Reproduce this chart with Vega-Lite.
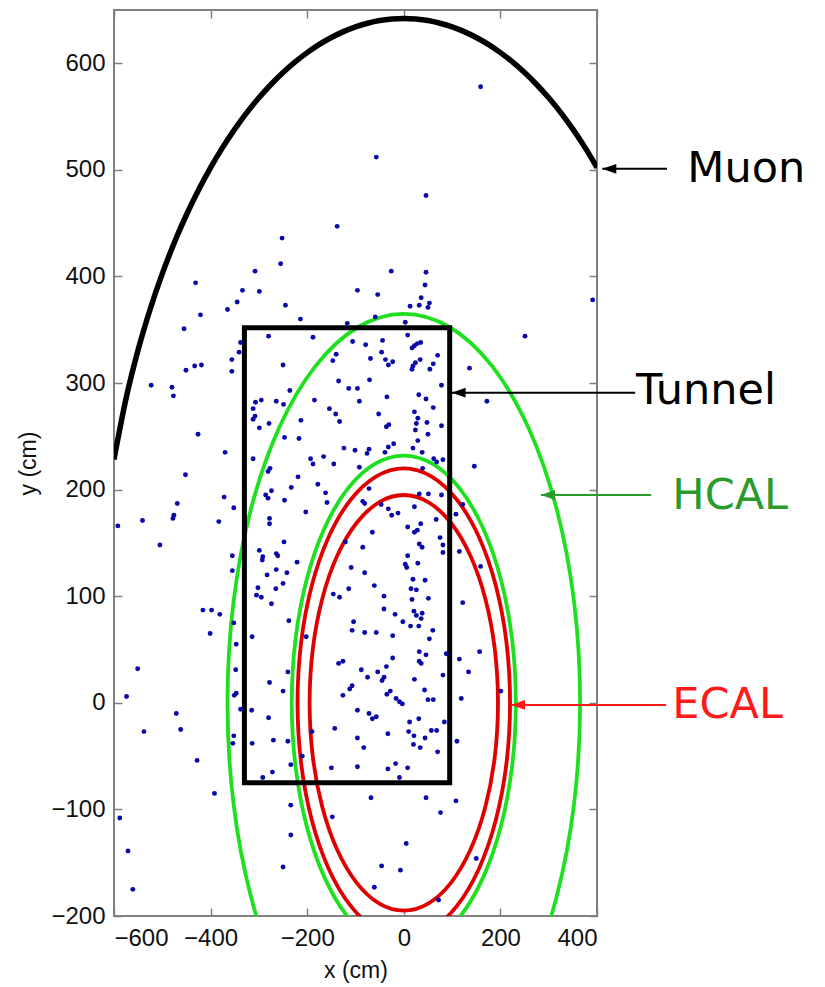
{
  "$schema": "https://vega.github.io/schema/vega-lite/v6.json",
  "width": 483,
  "height": 906,
  "autosize": "none",
  "padding": {"left": 114, "top": 10, "right": 228, "bottom": 71},
  "background": "white",
  "datasets": {
    "rings": [
      {"ring":"E1","item":"ECAL","i":0,"x":195,"y":0},{"ring":"E1","item":"ECAL","i":1,"x":188.4,"y":50.5},{"ring":"E1","item":"ECAL","i":2,"x":168.9,"y":97.5},{"ring":"E1","item":"ECAL","i":3,"x":137.9,"y":137.9},{"ring":"E1","item":"ECAL","i":4,"x":97.5,"y":168.9},{"ring":"E1","item":"ECAL","i":5,"x":50.5,"y":188.4},{"ring":"E1","item":"ECAL","i":6,"x":0,"y":195},{"ring":"E1","item":"ECAL","i":7,"x":-50.5,"y":188.4},{"ring":"E1","item":"ECAL","i":8,"x":-97.5,"y":168.9},{"ring":"E1","item":"ECAL","i":9,"x":-137.9,"y":137.9},{"ring":"E1","item":"ECAL","i":10,"x":-168.9,"y":97.5},{"ring":"E1","item":"ECAL","i":11,"x":-188.4,"y":50.5},{"ring":"E1","item":"ECAL","i":12,"x":-195,"y":0},{"ring":"E1","item":"ECAL","i":13,"x":-188.4,"y":-50.5},{"ring":"E1","item":"ECAL","i":14,"x":-168.9,"y":-97.5},{"ring":"E1","item":"ECAL","i":15,"x":-137.9,"y":-137.9},{"ring":"E1","item":"ECAL","i":16,"x":-97.5,"y":-168.9},{"ring":"E1","item":"ECAL","i":17,"x":-50.5,"y":-188.4},{"ring":"E1","item":"ECAL","i":18,"x":0,"y":-195},{"ring":"E1","item":"ECAL","i":19,"x":50.5,"y":-188.4},{"ring":"E1","item":"ECAL","i":20,"x":97.5,"y":-168.9},{"ring":"E1","item":"ECAL","i":21,"x":137.9,"y":-137.9},{"ring":"E1","item":"ECAL","i":22,"x":168.9,"y":-97.5},{"ring":"E1","item":"ECAL","i":23,"x":188.4,"y":-50.5},
      {"ring":"E2","item":"ECAL","i":0,"x":220,"y":0},{"ring":"E2","item":"ECAL","i":1,"x":212.5,"y":56.9},{"ring":"E2","item":"ECAL","i":2,"x":190.5,"y":110},{"ring":"E2","item":"ECAL","i":3,"x":155.6,"y":155.6},{"ring":"E2","item":"ECAL","i":4,"x":110,"y":190.5},{"ring":"E2","item":"ECAL","i":5,"x":56.9,"y":212.5},{"ring":"E2","item":"ECAL","i":6,"x":0,"y":220},{"ring":"E2","item":"ECAL","i":7,"x":-56.9,"y":212.5},{"ring":"E2","item":"ECAL","i":8,"x":-110,"y":190.5},{"ring":"E2","item":"ECAL","i":9,"x":-155.6,"y":155.6},{"ring":"E2","item":"ECAL","i":10,"x":-190.5,"y":110},{"ring":"E2","item":"ECAL","i":11,"x":-212.5,"y":56.9},{"ring":"E2","item":"ECAL","i":12,"x":-220,"y":0},{"ring":"E2","item":"ECAL","i":13,"x":-212.5,"y":-56.9},{"ring":"E2","item":"ECAL","i":14,"x":-190.5,"y":-110},{"ring":"E2","item":"ECAL","i":15,"x":-155.6,"y":-155.6},{"ring":"E2","item":"ECAL","i":16,"x":-110,"y":-190.5},{"ring":"E2","item":"ECAL","i":17,"x":-56.9,"y":-212.5},{"ring":"E2","item":"ECAL","i":18,"x":0,"y":-220},{"ring":"E2","item":"ECAL","i":19,"x":56.9,"y":-212.5},{"ring":"E2","item":"ECAL","i":20,"x":110,"y":-190.5},{"ring":"E2","item":"ECAL","i":21,"x":155.6,"y":-155.6},{"ring":"E2","item":"ECAL","i":22,"x":190.5,"y":-110},{"ring":"E2","item":"ECAL","i":23,"x":212.5,"y":-56.9},
      {"ring":"H1","item":"HCAL","i":0,"x":232,"y":0},{"ring":"H1","item":"HCAL","i":1,"x":224.1,"y":60},{"ring":"H1","item":"HCAL","i":2,"x":200.9,"y":116},{"ring":"H1","item":"HCAL","i":3,"x":164,"y":164},{"ring":"H1","item":"HCAL","i":4,"x":116,"y":200.9},{"ring":"H1","item":"HCAL","i":5,"x":60,"y":224.1},{"ring":"H1","item":"HCAL","i":6,"x":0,"y":232},{"ring":"H1","item":"HCAL","i":7,"x":-60,"y":224.1},{"ring":"H1","item":"HCAL","i":8,"x":-116,"y":200.9},{"ring":"H1","item":"HCAL","i":9,"x":-164,"y":164},{"ring":"H1","item":"HCAL","i":10,"x":-200.9,"y":116},{"ring":"H1","item":"HCAL","i":11,"x":-224.1,"y":60},{"ring":"H1","item":"HCAL","i":12,"x":-232,"y":0},{"ring":"H1","item":"HCAL","i":13,"x":-224.1,"y":-60},{"ring":"H1","item":"HCAL","i":14,"x":-200.9,"y":-116},{"ring":"H1","item":"HCAL","i":15,"x":-164,"y":-164},{"ring":"H1","item":"HCAL","i":16,"x":-116,"y":-200.9},{"ring":"H1","item":"HCAL","i":17,"x":-60,"y":-224.1},{"ring":"H1","item":"HCAL","i":18,"x":0,"y":-232},{"ring":"H1","item":"HCAL","i":19,"x":60,"y":-224.1},{"ring":"H1","item":"HCAL","i":20,"x":116,"y":-200.9},{"ring":"H1","item":"HCAL","i":21,"x":164,"y":-164},{"ring":"H1","item":"HCAL","i":22,"x":200.9,"y":-116},{"ring":"H1","item":"HCAL","i":23,"x":224.1,"y":-60},
      {"ring":"H2","item":"HCAL","i":0,"x":365,"y":0},{"ring":"H2","item":"HCAL","i":1,"x":352.6,"y":94.5},{"ring":"H2","item":"HCAL","i":2,"x":316.1,"y":182.5},{"ring":"H2","item":"HCAL","i":3,"x":258.1,"y":258.1},{"ring":"H2","item":"HCAL","i":4,"x":182.5,"y":316.1},{"ring":"H2","item":"HCAL","i":5,"x":94.5,"y":352.6},{"ring":"H2","item":"HCAL","i":6,"x":0,"y":365},{"ring":"H2","item":"HCAL","i":7,"x":-94.5,"y":352.6},{"ring":"H2","item":"HCAL","i":8,"x":-182.5,"y":316.1},{"ring":"H2","item":"HCAL","i":9,"x":-258.1,"y":258.1},{"ring":"H2","item":"HCAL","i":10,"x":-316.1,"y":182.5},{"ring":"H2","item":"HCAL","i":11,"x":-352.6,"y":94.5},{"ring":"H2","item":"HCAL","i":12,"x":-365,"y":0},{"ring":"H2","item":"HCAL","i":13,"x":-352.6,"y":-94.5},{"ring":"H2","item":"HCAL","i":14,"x":-316.1,"y":-182.5},{"ring":"H2","item":"HCAL","i":15,"x":-258.1,"y":-258.1},{"ring":"H2","item":"HCAL","i":16,"x":-182.5,"y":-316.1},{"ring":"H2","item":"HCAL","i":17,"x":-94.5,"y":-352.6},{"ring":"H2","item":"HCAL","i":18,"x":0,"y":-365},{"ring":"H2","item":"HCAL","i":19,"x":94.5,"y":-352.6},{"ring":"H2","item":"HCAL","i":20,"x":182.5,"y":-316.1},{"ring":"H2","item":"HCAL","i":21,"x":258.1,"y":-258.1},{"ring":"H2","item":"HCAL","i":22,"x":316.1,"y":-182.5},{"ring":"H2","item":"HCAL","i":23,"x":352.6,"y":-94.5}
    ],
    "muon": [
      {"x":-600,"y":228.4},{"x":-575,"y":285.6},{"x":-550,"y":331.2},{"x":-525,"y":369.5},{"x":-500,"y":402.7},{"x":-475,"y":431.9},{"x":-450,"y":457.9},{"x":-425,"y":481.2},{"x":-400,"y":502.2},{"x":-375,"y":521.1},{"x":-350,"y":538.2},{"x":-325,"y":553.7},{"x":-300,"y":567.6},{"x":-275,"y":580.1},{"x":-250,"y":591.3},{"x":-225,"y":601.3},{"x":-200,"y":610.0},{"x":-175,"y":617.7},{"x":-150,"y":624.2},{"x":-125,"y":629.7},{"x":-100,"y":634.2},{"x":-75,"y":637.6},{"x":-50,"y":640.1},{"x":-25,"y":641.5},{"x":0,"y":642},{"x":25,"y":641.5},{"x":50,"y":640.1},{"x":75,"y":637.6},{"x":100,"y":634.2},{"x":125,"y":629.7},{"x":150,"y":624.2},{"x":175,"y":617.7},{"x":200,"y":610.0},{"x":225,"y":601.3},{"x":250,"y":591.3},{"x":275,"y":580.1},{"x":300,"y":567.6},{"x":325,"y":553.7},{"x":350,"y":538.2},{"x":375,"y":521.1},{"x":400,"y":502.2}
    ],
    "tunnel": [{"x1":-330,"x2":95,"y1":-75,"y2":352}],
    "dots": [
      {"x":159,"y":578},{"x":-57,"y":512},{"x":46,"y":476},{"x":-138,"y":447},{"x":-252,"y":436},{"x":-255,"y":412},{"x":-308,"y":405},{"x":-26,"y":405},{"x":46,"y":404},{"x":-431,"y":394},
      {"x":44,"y":392},{"x":-334,"y":387},{"x":-299,"y":386},{"x":-96,"y":387},{"x":-54,"y":383},{"x":36,"y":380},{"x":391,"y":378},{"x":-345,"y":376},{"x":53,"y":375},{"x":32,"y":373},
      {"x":-245,"y":373},{"x":13,"y":372},{"x":50,"y":371},{"x":-365,"y":369},{"x":-421,"y":364},{"x":-214,"y":360},{"x":-59,"y":362},{"x":3,"y":357},{"x":-117,"y":356},{"x":-455,"y":351},
      {"x":251,"y":344},{"x":-280,"y":344},{"x":-188,"y":343},{"x":-106,"y":339},{"x":-79,"y":336},{"x":-44,"y":340},{"x":8,"y":345},{"x":28,"y":337},{"x":35,"y":338},{"x":22,"y":335},
      {"x":17,"y":333},{"x":-338,"y":338},{"x":-341,"y":329},{"x":-46,"y":329},{"x":-140,"y":327},{"x":-147,"y":321},{"x":-69,"y":323},{"x":-38,"y":322},{"x":-23,"y":320},{"x":-32,"y":317},
      {"x":34,"y":322},{"x":24,"y":319},{"x":19,"y":316},{"x":17,"y":313},{"x":70,"y":326},{"x":61,"y":318},{"x":54,"y":313},{"x":-250,"y":317},{"x":-356,"y":322},{"x":-356,"y":311},
      {"x":-135,"y":302},{"x":-71,"y":303},{"x":-114,"y":295},{"x":-96,"y":295},{"x":78,"y":298},{"x":-236,"y":293},{"x":-92,"y":283},{"x":-35,"y":287},{"x":31,"y":289},{"x":46,"y":285},
      {"x":61,"y":277},{"x":-295,"y":284},{"x":-307,"y":282},{"x":-312,"y":276},{"x":-264,"y":283},{"x":-249,"y":280},{"x":-185,"y":284},{"x":-154,"y":276},{"x":136,"y":314},{"x":172,"y":283},
      {"x":-451,"y":312},{"x":-433,"y":316},{"x":-419,"y":317},{"x":-523,"y":298},{"x":-480,"y":296},{"x":-477,"y":288},{"x":-426,"y":252},{"x":-370,"y":235},{"x":-452,"y":214},{"x":-372,"y":193},
      {"x":-469,"y":187},{"x":-592,"y":166},{"x":-541,"y":171},{"x":-476,"y":176},{"x":-478,"y":173},{"x":-383,"y":170},{"x":-505,"y":148},{"x":-355,"y":138},{"x":-355,"y":124},{"x":-416,"y":87},
      {"x":-398,"y":87},{"x":-381,"y":83},{"x":-401,"y":65},{"x":-352,"y":75},{"x":-551,"y":32},{"x":-574,"y":6},{"x":-471,"y":-10},{"x":-538,"y":-27},{"x":-462,"y":-25},{"x":-428,"y":-54},
      {"x":-392,"y":-85},{"x":-588,"y":-108},{"x":-571,"y":-139},{"x":-561,"y":-175},{"x":-351,"y":7},{"x":-347,"y":9},{"x":-338,"y":-6},{"x":-308,"y":269},{"x":-312,"y":266},{"x":-299,"y":258},
      {"x":-279,"y":262},{"x":-141,"y":271},{"x":-133,"y":264},{"x":-213,"y":265},{"x":-52,"y":271},{"x":-31,"y":261},{"x":-36,"y":259},{"x":22,"y":273},{"x":29,"y":267},{"x":26,"y":262},
      {"x":24,"y":256},{"x":48,"y":263},{"x":50,"y":252},{"x":78,"y":260},{"x":-247,"y":249},{"x":-217,"y":248},{"x":29,"y":246},{"x":19,"y":239},{"x":38,"y":235},{"x":-124,"y":239},
      {"x":-101,"y":237},{"x":-72,"y":238},{"x":-76,"y":234},{"x":-21,"y":243},{"x":-32,"y":240},{"x":-39,"y":235},{"x":-312,"y":229},{"x":-193,"y":229},{"x":-188,"y":224},{"x":-166,"y":231},
      {"x":-145,"y":224},{"x":-92,"y":221},{"x":39,"y":220},{"x":62,"y":229},{"x":81,"y":228},{"x":68,"y":226},{"x":-277,"y":220},{"x":-281,"y":217},{"x":-219,"y":212},{"x":-233,"y":202},
      {"x":-178,"y":205},{"x":-274,"y":199},{"x":-286,"y":195},{"x":-281,"y":192},{"x":-247,"y":190},{"x":-162,"y":197},{"x":-159,"y":188},{"x":-85,"y":189},{"x":-81,"y":187},{"x":-72,"y":201},
      {"x":-47,"y":186},{"x":-32,"y":182},{"x":32,"y":196},{"x":51,"y":196},{"x":22,"y":184},{"x":78,"y":195},{"x":-352,"y":183},{"x":-203,"y":179},{"x":-12,"y":178},{"x":-25,"y":176},
      {"x":-278,"y":173},{"x":-278,"y":168},{"x":35,"y":168},{"x":28,"y":162},{"x":22,"y":160},{"x":8,"y":165},{"x":67,"y":172},{"x":-65,"y":160},{"x":-121,"y":151},{"x":-248,"y":151},
      {"x":-85,"y":146},{"x":32,"y":149},{"x":38,"y":146},{"x":75,"y":155},{"x":81,"y":148},{"x":81,"y":141},{"x":-299,"y":143},{"x":-264,"y":140},{"x":-292,"y":137},{"x":146,"y":222},
      {"x":122,"y":186},{"x":108,"y":177},{"x":115,"y":142},{"x":159,"y":128},{"x":122,"y":94},{"x":157,"y":48},{"x":115,"y":41},{"x":134,"y":29},{"x":119,"y":4},{"x":201,"y":11},
      {"x":88,"y":46},{"x":150,"y":-146},{"x":110,"y":-36},{"x":108,"y":-92},{"x":76,"y":-103},{"x":46,"y":-89},{"x":84,"y":-18},{"x":-293,"y":134},{"x":-261,"y":138},{"x":-221,"y":132},
      {"x":3,"y":130},{"x":6,"y":127},{"x":29,"y":131},{"x":8,"y":138},{"x":-109,"y":127},{"x":-81,"y":122},{"x":-264,"y":125},{"x":-283,"y":120},{"x":-242,"y":122},{"x":19,"y":116},
      {"x":44,"y":115},{"x":-250,"y":112},{"x":-265,"y":107},{"x":-302,"y":108},{"x":-61,"y":110},{"x":-114,"y":107},{"x":15,"y":107},{"x":26,"y":106},{"x":-305,"y":101},{"x":-295,"y":99},
      {"x":-146,"y":102},{"x":-133,"y":99},{"x":-41,"y":100},{"x":17,"y":97},{"x":51,"y":98},{"x":-274,"y":93},{"x":-41,"y":88},{"x":21,"y":86},{"x":26,"y":82},{"x":38,"y":84},
      {"x":36,"y":79},{"x":-18,"y":83},{"x":-238,"y":77},{"x":-104,"y":76},{"x":-2,"y":76},{"x":14,"y":72},{"x":31,"y":72},{"x":60,"y":68},{"x":-107,"y":68},{"x":-81,"y":66},
      {"x":-57,"y":66},{"x":-23,"y":63},{"x":-314,"y":62},{"x":-202,"y":62},{"x":53,"y":60},{"x":-347,"y":55},{"x":32,"y":48},{"x":46,"y":45},{"x":32,"y":39},{"x":36,"y":37},
      {"x":-23,"y":42},{"x":-36,"y":34},{"x":-126,"y":39},{"x":-135,"y":37},{"x":-88,"y":31},{"x":-54,"y":29},{"x":-348,"y":31},{"x":-240,"y":29},{"x":81,"y":26},{"x":-75,"y":24},
      {"x":-41,"y":24},{"x":-45,"y":21},{"x":22,"y":22},{"x":-278,"y":19},{"x":-250,"y":11},{"x":-107,"y":16},{"x":-112,"y":13},{"x":43,"y":12},{"x":-28,"y":11},{"x":-126,"y":7},
      {"x":-35,"y":8},{"x":-16,"y":4},{"x":-9,"y":1},{"x":-3,"y":-1},{"x":50,"y":3},{"x":61,"y":3},{"x":-315,"y":-7},{"x":-280,"y":-14},{"x":-96,"y":-7},{"x":-72,"y":-10},
      {"x":-65,"y":-15},{"x":-57,"y":-13},{"x":12,"y":-18},{"x":31,"y":-15},{"x":-143,"y":-24},{"x":10,"y":-27},{"x":21,"y":-31},{"x":57,"y":-26},{"x":68,"y":-26},{"x":-33,"y":-29},
      {"x":44,"y":-33},{"x":-270,"y":-35},{"x":-314,"y":-38},{"x":-240,"y":-36},{"x":-96,"y":-33},{"x":-83,"y":-42},{"x":20,"y":-39},{"x":34,"y":-42},{"x":70,"y":-46},{"x":-210,"y":-50},
      {"x":-190,"y":-27},{"x":-234,"y":-58},{"x":-150,"y":-61},{"x":-96,"y":-60},{"x":-33,"y":-62},{"x":-17,"y":-57},{"x":8,"y":-61},{"x":-272,"y":-65},{"x":-292,"y":-70},{"x":-9,"y":-70},
      {"x":-68,"y":-89},{"x":-234,"y":-96},{"x":-148,"y":-107},{"x":-234,"y":-124},{"x":5,"y":-132},{"x":-46,"y":-153},{"x":-7,"y":-157},{"x":-250,"y":-154},{"x":-61,"y":-173},{"x":72,"y":-185},
      {"x":-352,"y":-31},{"x":-354,"y":-38}
    ],
    "arrows": [
      {"item":"Muon","x1":411,"x2":545,"y":501},
      {"item":"Tunnel","x1":99,"x2":479,"y":291},
      {"item":"HCAL","x1":284,"x2":512,"y":195},
      {"item":"ECAL","x1":222,"x2":543,"y":-2}
    ],
    "labels": [
      {"item":"Muon","x":587,"y":501,"label":"Muon"},
      {"item":"Tunnel","x":481,"y":293,"label":"Tunnel"},
      {"item":"HCAL","x":556,"y":194,"label":"HCAL"},
      {"item":"ECAL","x":556,"y":-2,"label":"ECAL"}
    ]
  },
  "layer": [
    {
      "data": {"name": "rings"},
      "transform": [{"filter": "datum.item === 'HCAL'"}],
      "mark": {"type": "line", "interpolate": "cardinal-closed", "color": "#1fe01f", "strokeWidth": 3.8, "clip": true},
      "encoding": {
        "x": {"field": "x", "type": "quantitative", "scale": {"domain": [-600, 400], "nice": false, "zero": false},
              "axis": {"orient": "bottom", "values": [-600, -400, -200, 0, 200, 400], "title": "x (cm)", "labelPadding": 18, "titlePadding": 9}},
        "y": {"field": "y", "type": "quantitative", "scale": {"domain": [-200, 650], "nice": false, "zero": false},
              "axis": {"orient": "left", "values": [-200, -100, 0, 100, 200, 300, 400, 500, 600], "title": "y (cm)", "labelPadding": 17, "titlePadding": 10}},
        "detail": {"field": "ring"},
        "order": {"field": "i", "type": "quantitative"}
      }
    },
    {
      "data": {"name": "rings"},
      "transform": [{"filter": "datum.item === 'ECAL'"}],
      "mark": {"type": "line", "interpolate": "cardinal-closed", "color": "#e00000", "strokeWidth": 3.8, "clip": true},
      "encoding": {
        "x": {"field": "x", "type": "quantitative", "scale": {"domain": [-600, 400], "nice": false, "zero": false},
              "axis": {"orient": "top", "values": [-600, -400, -200, 0, 200, 400], "labels": false, "title": null}},
        "y": {"field": "y", "type": "quantitative", "scale": {"domain": [-200, 650], "nice": false, "zero": false},
              "axis": {"orient": "right", "values": [-200, -100, 0, 100, 200, 300, 400, 500, 600], "labels": false, "title": null}},
        "detail": {"field": "ring"},
        "order": {"field": "i", "type": "quantitative"}
      }
    },
    {
      "data": {"name": "tunnel"},
      "mark": {"type": "rect", "filled": false, "color": "#000000", "strokeWidth": 5},
      "encoding": {
        "x": {"field": "x1", "type": "quantitative", "scale": {"domain": [-600, 400], "nice": false, "zero": false}, "axis": null},
        "x2": {"field": "x2"},
        "y": {"field": "y1", "type": "quantitative", "scale": {"domain": [-200, 650], "nice": false, "zero": false}, "axis": null},
        "y2": {"field": "y2"}
      }
    },
    {
      "data": {"name": "muon"},
      "mark": {"type": "line", "interpolate": "monotone", "color": "#000000", "strokeWidth": 5.5, "clip": true},
      "encoding": {
        "x": {"field": "x", "type": "quantitative", "scale": {"domain": [-600, 400], "nice": false, "zero": false}, "axis": null},
        "y": {"field": "y", "type": "quantitative", "scale": {"domain": [-200, 650], "nice": false, "zero": false}, "axis": null}
      }
    },
    {
      "data": {"name": "dots"},
      "mark": {"type": "point", "filled": true, "shape": "circle", "size": 24, "color": "#0a0aa8", "opacity": 1},
      "encoding": {
        "x": {"field": "x", "type": "quantitative", "scale": {"domain": [-600, 400], "nice": false, "zero": false}, "axis": null},
        "y": {"field": "y", "type": "quantitative", "scale": {"domain": [-200, 650], "nice": false, "zero": false}, "axis": null}
      }
    },
    {
      "data": {"name": "arrows"},
      "mark": {"type": "rule", "strokeWidth": 2, "clip": false},
      "encoding": {
        "x": {"field": "x1", "type": "quantitative", "scale": {"domain": [-600, 400], "nice": false, "zero": false}, "axis": null},
        "x2": {"field": "x2"},
        "y": {"field": "y", "type": "quantitative", "scale": {"domain": [-200, 650], "nice": false, "zero": false}, "axis": null},
        "color": {"field": "item", "type": "nominal", "scale": {"domain": ["Muon", "Tunnel", "HCAL", "ECAL"], "range": ["#000000", "#000000", "#2a9a2a", "#ff1a1a"]}, "legend": null}
      }
    },
    {
      "data": {"name": "arrows"},
      "mark": {"type": "point", "filled": true, "shape": "M0,0L2,-0.7L2,0.7Z", "size": 196, "opacity": 1, "clip": false},
      "encoding": {
        "x": {"field": "x1", "type": "quantitative", "scale": {"domain": [-600, 400], "nice": false, "zero": false}, "axis": null},
        "y": {"field": "y", "type": "quantitative", "scale": {"domain": [-200, 650], "nice": false, "zero": false}, "axis": null},
        "color": {"field": "item", "type": "nominal", "scale": {"domain": ["Muon", "Tunnel", "HCAL", "ECAL"], "range": ["#000000", "#000000", "#2a9a2a", "#ff1a1a"]}, "legend": null}
      }
    },
    {
      "data": {"name": "labels"},
      "mark": {"type": "text", "align": "left", "baseline": "middle", "font": "DejaVu Sans", "fontSize": 43, "clip": false},
      "encoding": {
        "x": {"field": "x", "type": "quantitative", "scale": {"domain": [-600, 400], "nice": false, "zero": false}, "axis": null},
        "y": {"field": "y", "type": "quantitative", "scale": {"domain": [-200, 650], "nice": false, "zero": false}, "axis": null},
        "text": {"field": "label"},
        "color": {"field": "item", "type": "nominal", "scale": {"domain": ["Muon", "Tunnel", "HCAL", "ECAL"], "range": ["#000000", "#000000", "#22a022", "#ff0000"]}, "legend": null}
      }
    }
  ],
  "resolve": {"axis": {"x": "independent", "y": "independent"}},
  "config": {
    "view": {"stroke": "#808080", "strokeWidth": 2},
    "axis": {
      "grid": false,
      "domain": false,
      "tickColor": "#808080",
      "tickWidth": 1.5,
      "tickSize": -8,
      "labelFont": "Liberation Sans",
      "labelFontSize": 24,
      "labelColor": "#111111",
      "titleFont": "Liberation Sans",
      "titleFontSize": 23,
      "titleFontWeight": "normal",
      "titleColor": "#111111"
    }
  }
}
